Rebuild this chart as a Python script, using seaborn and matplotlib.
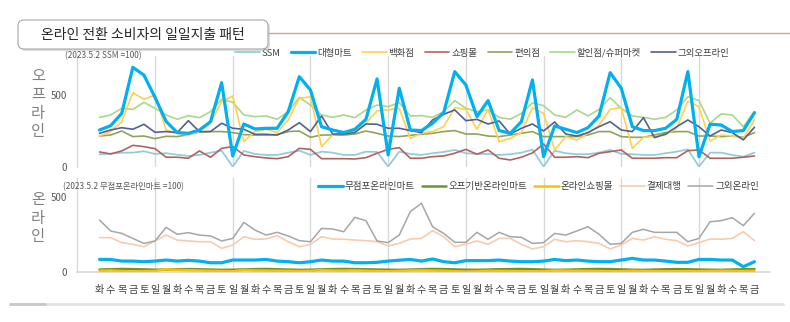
import numpy as np
import pandas as pd
import matplotlib
matplotlib.use("Agg")
import matplotlib.pyplot as plt
import seaborn as sns
from matplotlib.patches import FancyBboxPatch
from matplotlib.lines import Line2D
from matplotlib.transforms import IdentityTransform

sns.set_theme(style="white")
plt.rcParams['font.family'] = ['Noto Sans CJK KR', 'DejaVu Sans']

# ---------------- data ----------------
weekdays = ['화', '수', '목', '금', '토', '일', '월']
n_days = 60
day_labels = [weekdays[i % 7] for i in range(n_days)]
sunday_idx = [5, 12, 19, 26, 33, 40, 47, 54]

ssm = [89, 93, 100, 100, 110, 91, 96, 86, 77, 84,
       100, 114, 3, 112, 91, 84, 84, 100, 114, 84,
       107, 100, 84, 84, 107, 105, 3, 107, 91, 84,
       96, 105, 119, 96, 91, 91, 84, 89, 100, 121,
       3, 114, 96, 89, 89, 100, 119, 91, 89, 84,
       84, 96, 107, 123, 3, 100, 100, 84, 72, 100]
hypermart = [258, 288, 374, 695, 641, 485, 318, 240, 235, 258,
             316, 588, 77, 300, 265, 270, 270, 386, 630, 537,
             281, 258, 240, 263, 332, 614, 84, 549, 258, 254,
             305, 379, 665, 572, 351, 463, 254, 235, 316, 607,
             72, 286, 263, 240, 274, 356, 658, 549, 281, 254,
             254, 270, 332, 665, 72, 298, 293, 247, 254, 379]
dept = [216, 247, 316, 518, 472, 502, 258, 235, 223, 247,
        305, 456, 495, 177, 247, 263, 240, 328, 479, 490,
        142, 223, 235, 247, 305, 391, 398, 409, 200, 235,
        247, 281, 414, 402, 263, 402, 177, 200, 240, 414,
        374, 119, 212, 189, 235, 293, 402, 414, 130, 207,
        212, 223, 270, 460, 421, 181, 223, 216, 200, 328]
mall = [105, 91, 112, 151, 142, 128, 68, 68, 61, 112,
        68, 130, 142, 84, 72, 63, 58, 72, 130, 123,
        58, 58, 58, 56, 65, 96, 123, 135, 61, 61,
        72, 77, 96, 123, 89, 119, 61, 49, 68, 98,
        161, 68, 68, 72, 65, 96, 107, 119, 61, 61,
        61, 65, 65, 114, 119, 61, 61, 61, 68, 77]
conv = [216, 223, 251, 212, 216, 198, 214, 212, 226, 244,
        247, 247, 240, 226, 223, 223, 226, 247, 251, 207,
        223, 223, 223, 230, 251, 235, 216, 212, 221, 228,
        235, 247, 254, 230, 230, 216, 212, 223, 235, 247,
        212, 212, 212, 212, 223, 247, 247, 212, 207, 207,
        223, 240, 247, 247, 216, 216, 212, 216, 207, 240]
discount = [346, 363, 409, 402, 451, 409, 363, 333, 358, 344,
            386, 472, 451, 363, 351, 356, 333, 386, 486, 432,
            363, 346, 363, 344, 398, 432, 421, 449, 356, 358,
            346, 386, 463, 409, 386, 398, 346, 333, 374, 448,
            428, 363, 346, 398, 356, 402, 483, 409, 356, 346,
            333, 346, 398, 490, 463, 305, 370, 363, 281, 386]
other_off = [235, 258, 274, 263, 298, 242, 247, 240, 323, 247,
             247, 305, 270, 263, 228, 228, 223, 258, 309, 247,
             356, 230, 230, 240, 300, 298, 270, 270, 254, 240,
             328, 367, 398, 323, 332, 300, 321, 230, 270, 300,
             251, 314, 230, 216, 240, 281, 316, 258, 247, 344,
             205, 230, 281, 328, 281, 216, 258, 240, 189, 277]

online_mart = [85, 85, 74, 74, 70, 74, 81, 74, 79, 74,
               63, 63, 81, 81, 81, 85, 74, 70, 63, 70,
               81, 74, 74, 63, 63, 66, 74, 80, 85, 74,
               88, 70, 63, 77, 77, 77, 81, 74, 70, 70,
               74, 85, 77, 81, 74, 70, 70, 81, 92, 81,
               81, 74, 66, 66, 85, 85, 81, 81, 37, 70]
off_online = [18, 20, 22, 21, 19, 17, 18, 20, 21, 20,
              18, 16, 17, 19, 21, 22, 20, 18, 16, 17,
              19, 21, 22, 21, 20, 18, 17, 16, 18, 20,
              22, 21, 19, 17, 16, 18, 20, 21, 22, 20,
              18, 16, 17, 19, 21, 22, 21, 19, 17, 16,
              18, 20, 21, 20, 18, 17, 16, 18, 20, 21]
online_mall = [10, 12, 8, 6, 7, 9, 20, 16, 14, 12,
               10, 8, 7, 15, 12, 11, 10, 9, 8, 9,
               14, 12, 11, 13, 10, 8, 7, 9, 12, 13,
               11, 10, 6, 5, 7, 10, 9, 8, 7, 6,
               8, 12, 11, 10, 9, 8, 6, 7, 10, 9,
               8, 7, 6, 8, 7, 9, 10, 9, 8, 9]
payment = [229, 229, 196, 185, 169, 207, 246, 213, 207, 202,
           202, 158, 180, 235, 218, 220, 242, 202, 169, 185,
           235, 220, 218, 213, 209, 202, 174, 191, 220, 224,
           275, 235, 169, 185, 207, 185, 224, 224, 185, 154,
           169, 218, 202, 209, 202, 191, 154, 180, 224, 213,
           235, 218, 209, 174, 196, 220, 218, 224, 268, 209]
other_on = [345, 273, 257, 224, 191, 207, 297, 251, 262, 246,
            240, 207, 224, 330, 279, 246, 264, 240, 209, 202,
            290, 286, 268, 363, 341, 207, 196, 246, 401, 456,
            301, 257, 198, 198, 264, 218, 264, 235, 231, 191,
            196, 257, 246, 273, 301, 251, 185, 191, 264, 284,
            264, 264, 264, 202, 224, 334, 341, 361, 308, 390]

top_names = ['SSM', '대형마트', '백화점', '쇼핑몰', '편의점', '할인점/슈퍼마켓', '그외오프라인']
top_series = [ssm, hypermart, dept, mall, conv, discount, other_off]
top_colors = ['#92CDDC', '#00B0F0', '#FFD050', '#B4625F', '#8EA35C', '#A9D88A', '#52618F']
top_widths = [1.3, 2.3, 1.2, 1.2, 1.2, 1.2, 1.2]
top_z = [3, 9, 4, 3, 3, 3, 5]

bot_names = ['무점포온라인마트', '오프기반온라인마트', '온라인쇼핑몰', '결제대행', '그외온라인']
bot_series = [online_mart, off_online, online_mall, payment, other_on]
bot_colors = ['#00B0F0', '#6E9431', '#FFC000', '#F8CBAD', '#A6A6A6']
bot_widths = [2.3, 1.8, 1.8, 1.2, 1.1]
bot_z = [6, 5, 6, 3, 3]

# ---------------- figure ----------------
W, H = 790, 322
fig = plt.figure(figsize=(W / 100, H / 100), dpi=100)
fig.patch.set_facecolor('white')

def fx(px):
    return px / W

def fy(py):
    return 1 - py / H

ax1 = fig.add_axes([fx(77), fy(167), fx(770 - 77), 111 / H])
ax2 = fig.add_axes([fx(77), fy(272.3), fx(770 - 77), (272.3 - 178) / H])

x = np.arange(n_days)
for ax in (ax1, ax2):
    for s in sunday_idx:
        ax.axvline(s, color='#D9D9D9', lw=1.0, zorder=1)

for name, vals, c, lw, z in zip(top_names, top_series, top_colors, top_widths, top_z):
    sns.lineplot(x=x, y=vals, ax=ax1, color=c, linewidth=lw, label=name, zorder=z)
for name, vals, c, lw, z in zip(bot_names, bot_series, bot_colors, bot_widths, bot_z):
    sns.lineplot(x=x, y=vals, ax=ax2, color=c, linewidth=lw, label=name, zorder=z)

for ax in (ax1, ax2):
    ax.set_xlim(-2.03, 60.4)
    ax.set_facecolor('none')
    for sp in ['top', 'right', 'bottom']:
        ax.spines[sp].set_visible(False)
    ax.spines['left'].set_color('#D9D9D9')
    ax.spines['left'].set_linewidth(1.0)
    ax.set_yticks([0, 500])
    ax.set_yticklabels(['0', '500'])
    ax.tick_params(axis='y', length=0, pad=7, labelsize=7, labelcolor='#595959')
    ax.grid(False)
    ax.set_xlabel('')
    ax.set_ylabel('')

ax1.set_ylim(0, 774)
ax2.set_ylim(0, 623)
ax1.set_xticks([])
ax2.spines['bottom'].set_visible(True)
ax2.spines['bottom'].set_color('#D9D9D9')
ax2.set_xticks(x)
ax2.set_xticklabels(day_labels)
ax2.tick_params(axis='x', length=0, pad=9, labelsize=7.3, labelcolor='#404040')

# legends
h1, l1 = ax1.get_legend_handles_labels()
ax1.legend(h1, l1, ncol=7, loc='center left', bbox_to_anchor=(fx(235), fy(53)),
           bbox_transform=fig.transFigure, frameon=False, fontsize=6.8,
           handlelength=2.6, handletextpad=0.2, columnspacing=1.1,
           borderpad=0, borderaxespad=0, labelcolor='#404040')
h2, l2 = ax2.get_legend_handles_labels()
ax2.legend(h2, l2, ncol=5, loc='center left', bbox_to_anchor=(fx(318), fy(187)),
           bbox_transform=fig.transFigure, frameon=False, fontsize=6.9,
           handlelength=2.6, handletextpad=0.2, columnspacing=0.7,
           borderpad=0, borderaxespad=0, labelcolor='#404040')

# side labels & subtitles
fig.text(fx(38), fy(104), '오\n프\n라\n인', ha='center', va='center', fontsize=11,
         color='#808080', linespacing=1.1)
fig.text(fx(38), fy(218), '온\n라\n인', ha='center', va='center', fontsize=11,
         color='#808080', linespacing=1.1)
fig.text(fx(65), fy(56), '(2023.5.2 SSM =100)', fontsize=6, color='#595959', va='center')
fig.text(fx(63), fy(187), '(2023.5.2 무점포온라인마트 =100)', fontsize=6, color='#595959',
         va='center')

# title box (pixel coordinates, origin bottom-left)
tr = IdentityTransform()
shadow = FancyBboxPatch((20, H - 51), 250, 29, boxstyle='round,pad=0,rounding_size=6',
                        transform=tr, fc='#C8C8C8', ec='none', alpha=0.6, zorder=1)
box = FancyBboxPatch((18, H - 49), 250, 29, boxstyle='round,pad=0,rounding_size=6',
                     transform=tr, fc='white', ec='#A6A6A6', lw=0.8, zorder=2)
fig.add_artist(shadow)
fig.add_artist(box)
fig.add_artist(Line2D([fx(268), 1.0], [fy(33), fy(33)], color='#D5A888', lw=1.0))
fig.text(fx(143), fy(34.5), '온라인 전환 소비자의 일일지출 패턴', ha='center', va='center',
         fontsize=10, color='#262626', zorder=3)

# bottom frame strip
fig.add_artist(Line2D([fx(10), fx(783)], [fy(304), fy(304)], color='#E3E3E3', lw=2.0))
fig.add_artist(Line2D([fx(10), fx(45)], [fy(304), fy(304)], color='#C9C9C9', lw=2.0))

fig.savefig('out.png', dpi=100)
